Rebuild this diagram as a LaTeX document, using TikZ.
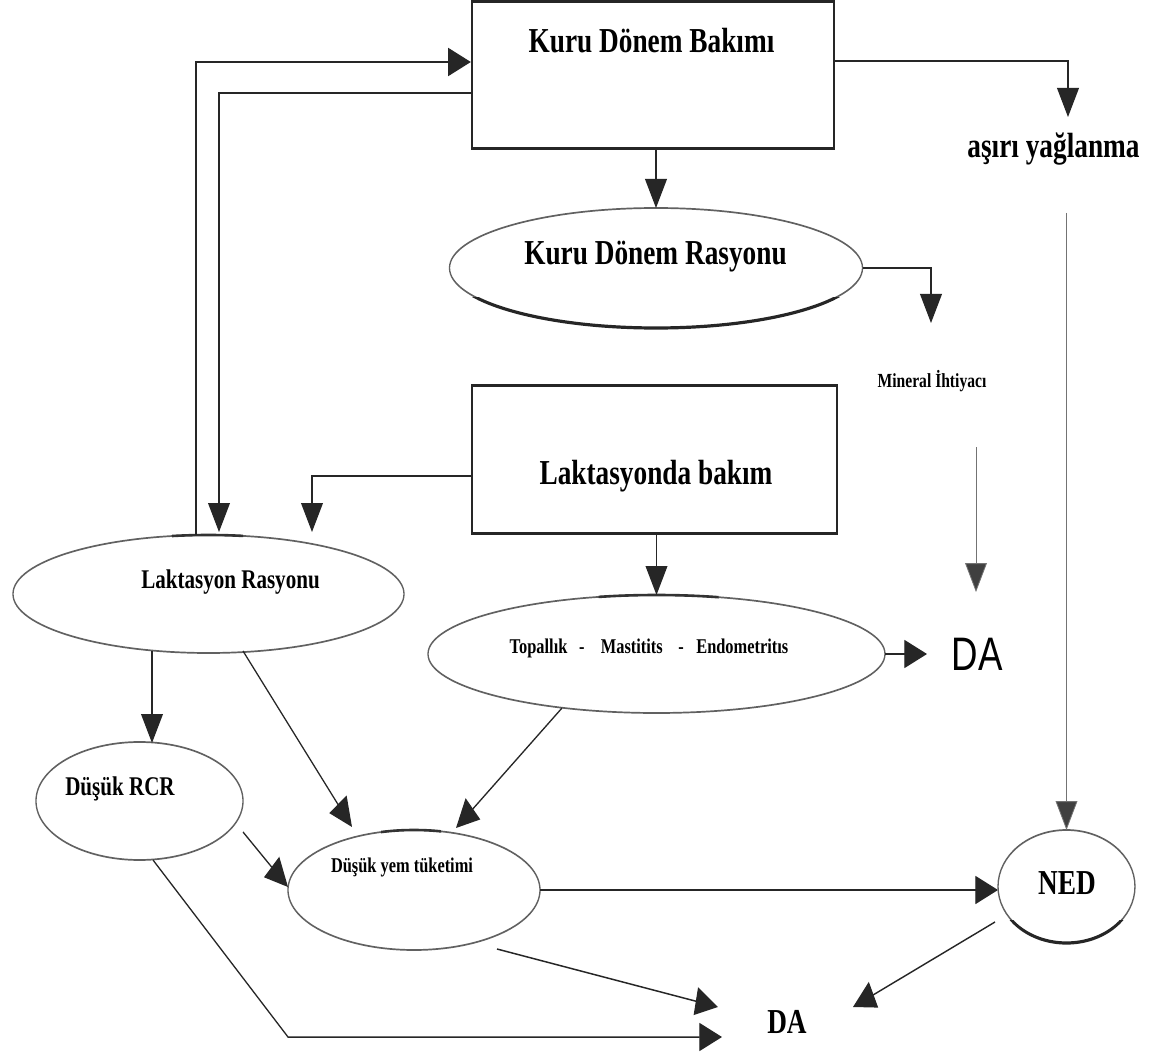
\documentclass[tikz,border=0pt]{standalone}
\usepackage{fontspec}
\setmainfont{Liberation Serif}
\newfontfamily\dafont{Liberation Sans}
\usetikzlibrary{arrows.meta,calc,shapes.geometric}
\tikzset{
  boxnode/.style={draw=black!85, line width=3pt, rectangle, inner sep=0pt},
  ovalnode/.style={draw=black!62, line width=1.7pt, ellipse, inner sep=0pt, outer sep=0pt},
  lbl/.style={anchor=base, inner sep=0pt, text=black, font=\bfseries},
  arr/.style={draw=black!85, line width=1.5pt, -{Triangle[length=29pt,width=28pt]}},
  thinarr/.style={draw=black!55, line width=1pt, -{Triangle[length=29pt,width=28pt, fill=black!75]}},
  thickarc/.style={draw=black!85, line width=3.2pt},
  midarc/.style={draw=black!80, line width=2.6pt}
}
\begin{document}
\begin{tikzpicture}
\useasboundingbox[fill=white] (0,0) rectangle (1173pt,-1059pt);
\begin{scope}[x=1.28205pt, y=-1pt, transform canvas={xscale=0.78}]
  % boxes
  \node[boxnode, minimum width=464.1pt, minimum height=147pt] (kdb) at (653,75.5) {};
  \node[boxnode, minimum width=468pt, minimum height=148pt] (lb) at (654.5,459) {};
  % ellipses
  \node[ovalnode, minimum width=529.5pt, minimum height=120pt] (kdr) at (656,268) {};
  \node[ovalnode, minimum width=501.3pt, minimum height=118pt] (lr) at (208.5,594) {};
  \node[ovalnode, minimum width=585.9pt, minimum height=118pt] (tme) at (656.5,654) {};
  \node[ovalnode, minimum width=265.4pt, minimum height=118pt] (rcr) at (139.5,801) {};
  \node[ovalnode, minimum width=323.1pt, minimum height=120pt] (dyt) at (414,890) {};
  \node[ovalnode, minimum width=175.6pt, minimum height=113pt] (ned) at (1066.5,886.5) {};
  % thicker parts of the outlines
  \begin{scope}
    \clip ($(kdr)+(-200,30)$) rectangle ($(kdr)+(200,75)$);
    \draw[thickarc] (kdr) ellipse [x radius=264.75pt, y radius=60pt];
  \end{scope}
  \begin{scope}
    \clip ($(ned)+(-70,34)$) rectangle ($(ned)+(70,70)$);
    \draw[thickarc] (ned) ellipse [x radius=87.8pt, y radius=56.5pt];
  \end{scope}
  \begin{scope}
    \clip ($(lr)+(-36.5,-70)$) rectangle ($(lr)+(34.5,-52)$);
    \draw[midarc] (lr) ellipse [x radius=250.65pt, y radius=59pt];
  \end{scope}
  \begin{scope}
    \clip ($(tme)+(-58,-70)$) rectangle ($(tme)+(62,-50)$);
    \draw[midarc] (tme) ellipse [x radius=292.95pt, y radius=59pt];
  \end{scope}
  \begin{scope}
    \clip ($(dyt)+(-33,-70)$) rectangle ($(dyt)+(27,-50)$);
    \draw[midarc] (dyt) ellipse [x radius=161.55pt, y radius=60pt];
  \end{scope}
  % texts
  \node[lbl, font=\fontsize{35}{40}\selectfont\bfseries] (tkdb) at (651.5,53) {Kuru Dönem Bakımı};
  \node[lbl, font=\fontsize{35}{40}\selectfont\bfseries] (tkdr) at (655.5,265) {Kuru Dönem Rasyonu};
  \node[lbl, font=\fontsize{35}{40}\selectfont\bfseries] (tlb) at (656,484) {Laktasyonda bakım};
  \node[lbl, font=\fontsize{35}{40}\selectfont\bfseries] (ay) at (1053.5,158) {aşırı yağlanma};
  \node[lbl, font=\fontsize{20}{24}\selectfont\bfseries] (mi) at (932,388) {Mineral İhtiyacı};
  \node[lbl, font=\fontsize{27}{32}\selectfont\bfseries] (tlr) at (230.5,588) {Laktasyon Rasyonu};
  \node[lbl, font=\fontsize{21}{25}\selectfont\bfseries] (ttme) at (649,653) {Topallık\hspace{15pt}-\hspace{21pt}Mastitits\hspace{20pt}-\hspace{16pt}Endometritıs};
  \node[lbl, font=\fontsize{27}{32}\selectfont\bfseries] (trcr) at (120,795) {Düşük RCR};
  \node[lbl, font=\fontsize{21}{25}\selectfont\bfseries] (tdyt) at (402,872) {Düşük yem tüketimi};
  \node[lbl, font=\fontsize{35}{40}\selectfont\bfseries] (tned) at (1067,894) {NED};
  \node[lbl, font=\fontsize{35}{40}\selectfont\bfseries] (daB) at (787,1033) {DA};
  \node[lbl, font=\fontsize{47}{52}\selectfont\dafont] (daR) at (977,670) {DA};
  % connectors
  \draw[arr] ($(lr.north)+(-12.5,0)$) |- ($(kdb.west)+(0,-13.5)$);
  \draw[arr] ($(kdb.west)+(0,17.5)$) -| ($(lr.north)+(10.5,-3)$);
  \draw[arr] (kdb.south -| kdr.north) -- (kdr.north);
  \draw[arr] ($(kdb.east)+(0,-14.5)$) -| ($(ay.base)+(14.5,-41)$);
  \draw[arr] (kdr.east) -| ($(mi.base)+(-1,-65)$);
  \draw[thinarr] ($(mi.base)+(44,59)$) -- ($(daR.base)+(-1,-78)$);
  \draw[thinarr] ($(ay.base)+(13,55)$) -- (ned.north);
  \draw[arr] ($(lb.west)+(0,17)$) -| ($(lr.north)+(103.5,-3)$);
  \draw[arr] (lb.south -| tme.north) -- (tme.north);
  \draw[arr] (tme.east) -- ($(daR.base)+(-50,-16)$);
  \draw[arr] ($(lr.south)+(-56.5,-2.5)$) -- ($(rcr.north)+(12.5,1)$);
  \draw[arr] ($(lr)+(34.5,57)$) -- ($(dyt)+(-62,-63)$);
  \draw[arr] ($(tme)+(-94.5,54)$) -- ($(dyt)+(42,-62)$);
  \draw[arr] ($(rcr)+(103.5,31)$) -- ($(dyt)+(-126,-3)$);
  \draw[arr] (dyt.east) -- (ned.west |- dyt.east);
  \draw[arr] ($(dyt)+(83,59)$) -- ($(daB.base)+(-69,-26)$);
  \draw[arr] ($(ned)+(-71.5,35.5)$) -- ($(daB.base)+(66,-26)$);
  \draw[arr] ($(rcr)+(13.5,59)$) -- ($(daB.base)+(-499,4)$) -- ($(daB.base)+(-65,4)$);
\end{scope}
\end{tikzpicture}
\end{document}
